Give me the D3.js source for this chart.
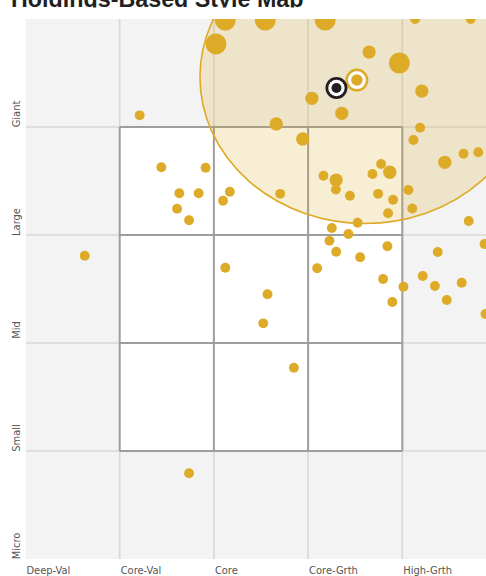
<!DOCTYPE html>
<html>
<head>
<meta charset="utf-8">
<script src="https://cdn.jsdelivr.net/npm/d3@7"></script>
<style>
  html, body { margin: 0; padding: 0; background: #ffffff; }
  svg { display: block; }
</style>
</head>
<body>
<script>
// ---- data ----
const titleText = "Holdings-Based Style Map";
const xLabels = ["Deep-Val", "Core-Val", "Core", "Core-Grth", "High-Grth"];
const yLabels = ["Micro", "Small", "Mid", "Large", "Giant"];

// holdings: style score (x), size score (y), weight
const holdX = [2.121, 2.545, 3.181, 2.022, 4.136, 4.726, 3.648, 3.969, 4.207, 3.040,
               3.358, 2.662, 2.943, 4.189, 4.118, 4.451, 4.650, 4.806, 1.212, 1.442,
               1.912, 1.633, 1.838, 1.609, 1.736, 2.169, 2.097, 2.704, 3.163, 3.298,
               3.295, 3.444, 3.683, 3.775, 3.867, 3.743, 3.902, 3.849, 4.065, 4.106,
               4.705, 3.526, 3.252, 3.428, 3.227, 3.298, 3.552, 3.842, 3.096, 3.796,
               3.894, 4.012, 4.217, 4.346, 4.472, 4.631, 4.376, 4.873, 4.883, 0.629,
               2.121, 2.569, 2.524, 2.849, 1.736];
const holdY = [4.991, 4.991, 4.991, 4.769, 5.000, 5.000, 4.694, 4.593, 4.333, 4.266,
               4.127, 4.028, 3.889, 3.994, 3.880, 3.673, 3.752, 3.766, 4.108, 3.627,
               3.622, 3.386, 3.387, 3.244, 3.136, 3.401, 3.317, 3.381, 3.549, 3.509,
               3.421, 3.363, 3.565, 3.657, 3.581, 3.381, 3.326, 3.201, 3.417, 3.245,
               3.130, 3.114, 3.065, 3.009, 2.946, 2.845, 2.794, 2.896, 2.692, 2.593,
               2.380, 2.521, 2.620, 2.528, 2.398, 2.558, 2.843, 2.917, 2.269, 2.808,
               2.697, 2.451, 2.182, 1.771, 0.794];
const holdW = [4.5, 4.5, 4.5, 4.5, 1, 1, 1.8, 4.5, 1.8, 1.8,
               1.8, 1.8, 1.8, 1, 1, 1.8, 1, 1, 1, 1,
               1, 1, 1, 1, 1, 1, 1, 1, 1, 1.8,
               1, 1, 1, 1, 1.8, 1, 1, 1, 1, 1,
               1, 1, 1, 1, 1, 1, 1, 1, 1, 1,
               1, 1, 1, 1, 1, 1, 1, 1, 1, 1,
               1, 1, 1, 1, 1];

// ownership zone (centroid and spread)
const zoneCenter = [3.604, 4.463];
const zoneSpread = [1.752, 1.356];

// portfolio centroid and benchmark centroid
const portfolioPt = [3.301, 4.361];
const benchmarkPt = [3.518, 4.435];

// ---- chart ----
const W = 486, H = 576;
const gold = "#ddab28";
const svg = d3.select("body").append("svg").attr("width", W).attr("height", H);

const x = d3.scaleLinear().domain([0, 5]).range([25.5, 496.5]);
const y = d3.scaleLinear().domain([0, 5]).range([559, 19]);
const r = d3.scaleSqrt().domain([0, 4.5]).range([0, 10.5]);

const defs = svg.append("defs");
defs.append("clipPath").attr("id", "plotClip")
  .append("rect")
  .attr("x", x(0)).attr("y", y(5))
  .attr("width", W - x(0)).attr("height", y(0) - y(5));
defs.append("clipPath").attr("id", "titleClip")
  .append("rect").attr("x", 0).attr("y", -40).attr("width", W).attr("height", 47.5);

// title (top cut off as in the reference)
svg.append("text")
  .attr("clip-path", "url(#titleClip)")
  .attr("x", 11).attr("y", 7)
  .attr("font-family", "'Liberation Sans', Arial, sans-serif")
  .attr("font-weight", "bold")
  .attr("font-size", 23.3)
  .attr("fill", "#231f20")
  .text(titleText);

const plot = svg.append("g").attr("clip-path", "url(#plotClip)");

plot.append("rect")
  .attr("x", x(0)).attr("y", y(5))
  .attr("width", x(5) - x(0)).attr("height", y(0) - y(5))
  .attr("fill", "#f2f3f2");

const gridVals = [1, 2, 3, 4];
plot.selectAll("line.gx").data(gridVals).join("line")
  .attr("x1", d => x(d)).attr("x2", d => x(d))
  .attr("y1", y(5)).attr("y2", y(0))
  .attr("stroke", "#d8d8d6").attr("stroke-width", 1.6);
plot.selectAll("line.gy").data(gridVals).join("line")
  .attr("y1", d => y(d)).attr("y2", d => y(d))
  .attr("x1", x(0)).attr("x2", x(5))
  .attr("stroke", "#d8d8d6").attr("stroke-width", 1.6);

// style box
plot.append("rect")
  .attr("x", x(1)).attr("y", y(4))
  .attr("width", x(4) - x(1)).attr("height", y(1) - y(4))
  .attr("fill", "#ffffff");
plot.selectAll("line.bx").data(gridVals).join("line")
  .attr("x1", d => x(d)).attr("x2", d => x(d))
  .attr("y1", y(4)).attr("y2", y(1))
  .attr("stroke", "#9d9d9f").attr("stroke-width", 2);
plot.selectAll("line.by").data(gridVals).join("line")
  .attr("y1", d => y(d)).attr("y2", d => y(d))
  .attr("x1", x(1)).attr("x2", x(4))
  .attr("stroke", "#9d9d9f").attr("stroke-width", 2);

// ownership zone
plot.append("ellipse")
  .attr("cx", x(zoneCenter[0])).attr("cy", y(zoneCenter[1]))
  .attr("rx", x(zoneSpread[0]) - x(0)).attr("ry", y(0) - y(zoneSpread[1]))
  .attr("fill", gold).attr("fill-opacity", 0.2)
  .attr("stroke", gold).attr("stroke-width", 1.6);

// holdings
const holdings = holdX.map((v, i) => ({ x: v, y: holdY[i], w: holdW[i] }));
plot.selectAll("circle.h").data(holdings).join("circle")
  .attr("cx", d => x(d.x)).attr("cy", d => y(d.y)).attr("r", d => r(d.w))
  .attr("fill", gold);

// benchmark marker (gold ring)
const bm = plot.append("g").attr("transform", `translate(${x(benchmarkPt[0])},${y(benchmarkPt[1])})`);
bm.append("circle").attr("r", 11.5).attr("fill", gold);
bm.append("circle").attr("r", 9).attr("fill", "#ffffff");
bm.append("circle").attr("r", 5.8).attr("fill", gold);

// portfolio marker (black ring)
const pm = plot.append("g").attr("transform", `translate(${x(portfolioPt[0])},${y(portfolioPt[1])})`);
pm.append("circle").attr("r", 11).attr("fill", "#231f20");
pm.append("circle").attr("r", 8.2).attr("fill", "#ffffff");
pm.append("circle").attr("r", 5).attr("fill", "#231f20");

// axis labels
const labelFont = "'Liberation Sans Narrow', 'Arial Narrow', 'DejaVu Sans Condensed', sans-serif";
svg.selectAll("text.xl").data(xLabels).join("text")
  .attr("x", (d, i) => x(i) + 1).attr("y", 574)
  .attr("font-family", labelFont).attr("font-size", 11)
  .attr("fill", "#555555")
  .text(d => d);

svg.selectAll("text.yl").data(yLabels).join("text")
  .attr("transform", (d, i) => `translate(20,${y(i) - 13}) rotate(-90)`)
  .attr("text-anchor", "middle")
  .attr("font-family", labelFont).attr("font-size", 11)
  .attr("fill", "#555555")
  .text(d => d);
</script>
</body>
</html>
